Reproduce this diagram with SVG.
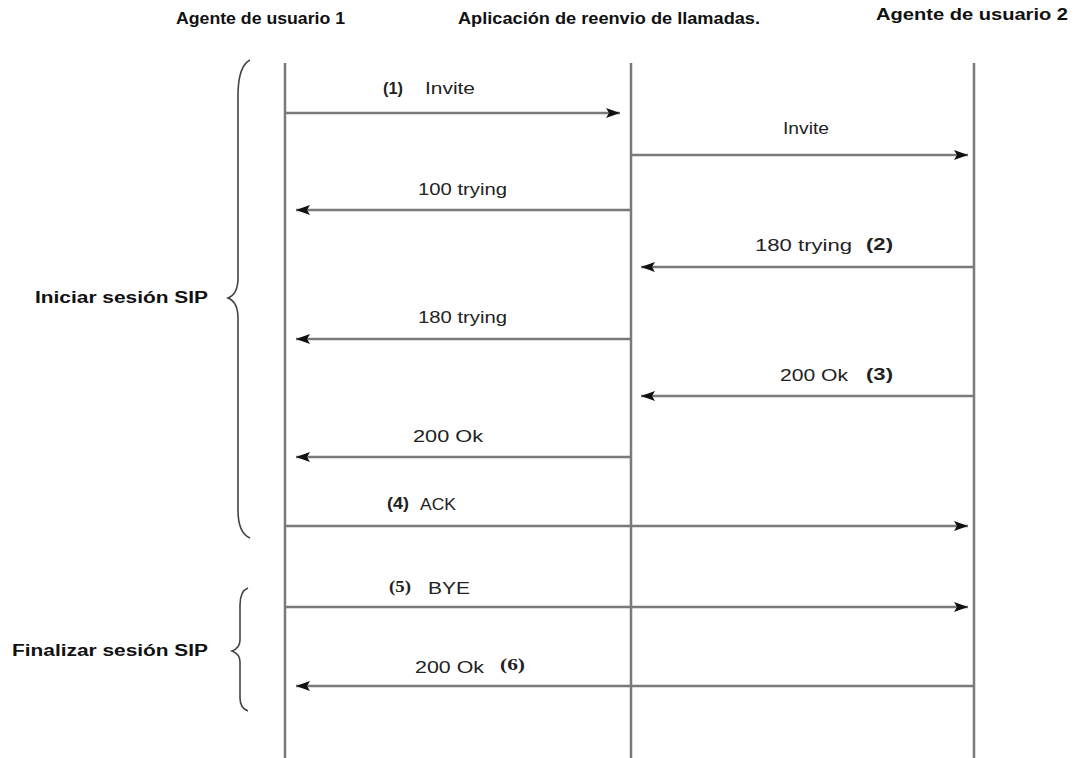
<svg xmlns="http://www.w3.org/2000/svg" width="1083" height="758" viewBox="0 0 1083 758">
  <style>
    .title { font-family: "Liberation Sans", Arial, sans-serif; font-weight: bold; font-size: 16px; fill: #111; }
    .lbl { font-family: "Liberation Sans", Arial, sans-serif; font-size: 16px; fill: #222; }
    .num { font-family: "Liberation Sans", Arial, sans-serif; font-weight: bold; font-size: 17px; fill: #222; }
    .nums { font-family: "Liberation Serif", "Times New Roman", serif; font-weight: bold; font-size: 17px; fill: #222; }
    .group { font-family: "Liberation Sans", Arial, sans-serif; font-weight: bold; font-size: 16px; fill: #111; }
    .life { stroke: #7a7a7a; stroke-width: 2.5; fill: none; }
    .msg { stroke: #7a7a7a; stroke-width: 2.5; fill: none; marker-end: url(#head); }
    .brace { stroke: #444; stroke-width: 1.6; fill: none; }
  </style>
  <defs>
    <marker id="head" markerUnits="userSpaceOnUse" markerWidth="18" markerHeight="12" refX="14" refY="5" orient="auto">
      <path d="M0,0 L14,5 L0,10 L3,5 Z" fill="#111"/>
    </marker>
  </defs>
  <rect width="1083" height="758" fill="#fff"/>

  <!-- participants with lifelines -->
  <g id="ua1">
    <text class="title" x="176" y="24" textLength="169" lengthAdjust="spacingAndGlyphs">Agente de usuario 1</text>
    <line class="life" x1="285" y1="63" x2="285" y2="758"/>
  </g>
  <g id="proxy">
    <text class="title" x="458" y="24" textLength="302" lengthAdjust="spacingAndGlyphs">Aplicación de reenvio de llamadas.</text>
    <line class="life" x1="631" y1="63" x2="631" y2="758"/>
  </g>
  <g id="ua2">
    <text class="title" x="876" y="20" textLength="192" lengthAdjust="spacingAndGlyphs">Agente de usuario 2</text>
    <line class="life" x1="974" y1="63" x2="974" y2="758"/>
  </g>

  <!-- phase brackets -->
  <g id="phase-start">
    <path class="brace" d="M250,60 Q238,66 238,96 L238,278 Q238,294 228,298 Q238,302 238,318 L238,510 Q238,533 250,538"/>
    <text class="group" x="35" y="303" textLength="173" lengthAdjust="spacingAndGlyphs">Iniciar sesión SIP</text>
  </g>
  <g id="phase-end">
    <path class="brace" d="M248,588 Q240,591 240,605 L240,640 Q240,648 232,651 Q240,654 240,662 L240,698 Q240,708 248,711"/>
    <text class="group" x="12" y="656" textLength="196" lengthAdjust="spacingAndGlyphs">Finalizar sesión SIP</text>
  </g>

  <!-- messages -->
  <g id="connectors">
    <line class="msg" x1="285" y1="113" x2="620" y2="113"/>
    <line class="msg" x1="631" y1="155" x2="968" y2="155"/>
    <line class="msg" x1="631" y1="210" x2="296" y2="210"/>
    <line class="msg" x1="974" y1="267" x2="641" y2="267"/>
    <line class="msg" x1="631" y1="339" x2="296" y2="339"/>
    <line class="msg" x1="974" y1="396" x2="641" y2="396"/>
    <line class="msg" x1="631" y1="457" x2="296" y2="457"/>
    <line class="msg" x1="285" y1="526" x2="968" y2="526"/>
    <line class="msg" x1="285" y1="607" x2="968" y2="607"/>
    <line class="msg" x1="974" y1="686" x2="296" y2="686"/>
  </g>

  <!-- message labels -->
  <g id="labels">
    <text class="num" x="383" y="94" textLength="20" lengthAdjust="spacingAndGlyphs">(1)</text>
    <text class="lbl" x="425" y="94" textLength="50" lengthAdjust="spacingAndGlyphs">Invite</text>
    <text class="lbl" x="783" y="134" textLength="46" lengthAdjust="spacingAndGlyphs">Invite</text>
    <text class="lbl" x="418" y="195" textLength="89" lengthAdjust="spacingAndGlyphs">100 trying</text>
    <text class="lbl" x="755" y="251" textLength="97" lengthAdjust="spacingAndGlyphs">180 trying</text>
    <text class="num" x="866" y="250" textLength="27" lengthAdjust="spacingAndGlyphs">(2)</text>
    <text class="lbl" x="418" y="323" textLength="89" lengthAdjust="spacingAndGlyphs">180 trying</text>
    <text class="lbl" x="780" y="381" textLength="68" lengthAdjust="spacingAndGlyphs">200 Ok</text>
    <text class="num" x="866" y="380" textLength="27" lengthAdjust="spacingAndGlyphs">(3)</text>
    <text class="lbl" x="413" y="442" textLength="70" lengthAdjust="spacingAndGlyphs">200 Ok</text>
    <text class="num" x="387" y="509" textLength="22" lengthAdjust="spacingAndGlyphs">(4)</text>
    <text class="lbl" x="420" y="510" textLength="36" lengthAdjust="spacingAndGlyphs">ACK</text>
    <text class="nums" x="389" y="592" textLength="22" lengthAdjust="spacingAndGlyphs">(5)</text>
    <text class="lbl" x="428" y="594" textLength="42" lengthAdjust="spacingAndGlyphs">BYE</text>
    <text class="lbl" x="415" y="673" textLength="69" lengthAdjust="spacingAndGlyphs">200 Ok</text>
    <text class="nums" x="500" y="670" textLength="25" lengthAdjust="spacingAndGlyphs">(6)</text>
  </g>
</svg>
